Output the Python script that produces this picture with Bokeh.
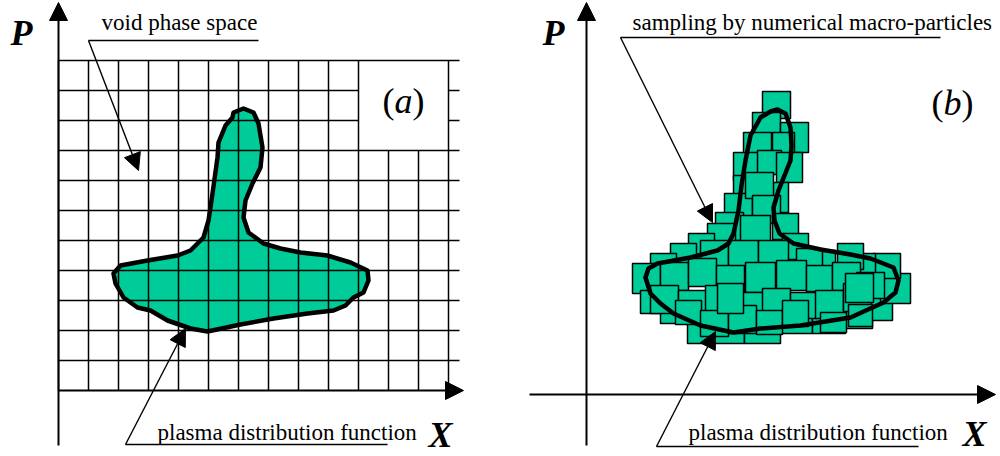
from bokeh.plotting import figure
from bokeh.models import Range1d, Arrow, NormalHead, ColumnDataSource
from bokeh.core.properties import value
from bokeh.embed import file_html
from bokeh.resources import INLINE

GREEN = "#00CC99"
SERIF = value("Liberation Serif")

# ---------------- data (page pixel coordinates) ----------------
# left panel grid
grid_cols = [58, 88, 118, 148, 178, 208, 238, 268, 298, 328, 358, 388, 418, 448]
grid_rows = [60, 90, 120, 150, 180, 210, 240, 270, 300, 330, 360]
grid_top, grid_bottom, grid_left, grid_right = 60, 390, 58, 459
label_box = [358, 448, 60, 150]   # left, right, top, bottom (empty cells)

# plasma distribution contour (panel a)
blob_a_x = [233, 243, 253, 258, 262, 260, 252, 245, 243, 248, 263, 280, 300, 327, 350, 367,
            368, 363, 353, 345, 333, 307, 273, 240, 207, 190, 167, 150, 137, 123, 115, 113,
            120, 147, 177, 190, 203, 208, 212, 217, 218, 225, 232]
blob_a_y = [112, 108, 112, 123, 147, 167, 183, 200, 217, 232, 243, 248, 252, 255, 262, 270,
            280, 292, 297, 305, 310, 313, 318, 324, 331, 328, 320, 310, 307, 297, 283, 273,
            265, 260, 255, 250, 237, 220, 193, 157, 142, 125, 117]

# plasma distribution contour (panel b)
blob_b_x = [770, 777, 785, 790, 791, 790, 784, 778, 773, 774, 779, 793, 820, 850, 870, 893,
            898, 895, 883, 850, 800, 760, 733, 700, 673, 660, 650, 645, 648, 657, 690, 717,
            728, 733, 738, 741, 745, 750, 760]
blob_b_y = [111, 109, 113, 127, 145, 160, 175, 190, 207, 220, 233, 243, 249, 254, 258, 267,
            280, 292, 302, 317, 325, 328, 332, 325, 313, 303, 293, 277, 268, 263, 257, 250,
            243, 233, 210, 185, 160, 135, 117]

# macro-particles (left, top, width, height)
sq_left = [762, 752, 780, 743, 733, 772, 757, 776, 733, 762, 724, 745, 752, 715, 707, 740, 772, 782,
           688, 670, 650, 632, 640, 660, 687, 714, 744, 780, 812, 845, 866, 880, 873, 848, 837, 808, 796,
           700, 728, 758, 660, 688, 716, 745, 776, 806, 832, 856, 650, 678, 705, 733, 762, 790, 815, 843,
           675, 700, 728, 756, 782, 820, 848, 717, 845]
sq_top = [91, 112, 122, 132, 152, 132, 150, 152, 175, 182, 193, 172, 195, 212, 223, 215, 213, 233,
          233, 243, 253, 263, 290, 305, 318, 318, 318, 305, 305, 300, 295, 273, 253, 253, 243, 250, 248,
          240, 240, 240, 262, 258, 265, 262, 260, 265, 262, 272, 285, 290, 285, 292, 288, 292, 290, 283,
          300, 310, 305, 310, 300, 312, 304, 283, 273]
sq_w = [28, 28, 28, 28, 28, 22, 24, 26, 26, 26, 28, 28, 28, 28, 28, 30, 26, 26,
        26, 26, 26, 28, 26, 28, 28, 30, 36, 32, 33, 27, 26, 30, 27, 27, 26, 27, 26,
        28, 30, 30, 28, 28, 28, 30, 30, 26, 28, 28, 28, 28, 26, 30, 28, 26, 28, 28,
        26, 28, 28, 26, 26, 26, 24, 26, 28]
sq_h = [27, 26, 30, 26, 28, 30, 24, 30, 26, 30, 28, 26, 28, 28, 28, 30, 26, 26,
        28, 28, 28, 30, 23, 18, 25, 25, 25, 28, 28, 28, 25, 30, 25, 26, 26, 24, 24,
        28, 28, 28, 28, 28, 28, 30, 30, 26, 28, 26, 28, 28, 28, 28, 28, 26, 28, 28,
        24, 26, 28, 24, 26, 20, 22, 30, 29]

# axes (start x, start y, tip x, tip y)
axis_x0 = [58, 58, 586, 529]
axis_y0 = [445, 390, 445, 394]
axis_x1 = [58, 463, 586, 995]
axis_y1 = [2, 390, 2, 394]

# annotations
note_text = ["void phase space", "plasma distribution function",
             "sampling by numerical macro-particles", "plasma distribution function"]
note_x = [101, 157, 632, 688]
note_y = [28, 438, 28, 438]
underline_x0 = [88, 125, 620, 656]
underline_x1 = [258, 387, 940, 918]
underline_y = [40, 444, 37, 446]
pointer_x1 = [138, 185, 712, 715]
pointer_y1 = [170, 328, 222, 331]

axis_label_text = ["P", "X", "P", "X"]
axis_label_x = [10, 428, 542, 962]
axis_label_y = [45, 447, 45, 446]

panel_tag = ["a", "b"]
panel_tag_x = [403, 952]
panel_tag_y = [113, 115]

# ---------------- figure ----------------
p = figure(width=1000, height=456, x_range=Range1d(0, 1000), y_range=Range1d(456, 0),
           output_backend="svg", toolbar_location=None, min_border=0)
p.axis.visible = False
p.grid.visible = False
p.outline_line_color = None
p.background_fill_color = "white"
p.border_fill_color = "white"

# panel a: blob fill beneath grid
p.patch(blob_a_x, blob_a_y, fill_color=GREEN, line_color=None)

# grid segments
gx0, gy0, gx1, gy1 = [], [], [], []
bl, br, bt, bb = label_box
for c in grid_cols:
    top = bb if bl < c < br else grid_top
    gx0.append(c); gy0.append(top); gx1.append(c); gy1.append(grid_bottom)
for r in grid_rows:
    if bt < r < bb:
        gx0 += [grid_left, br]; gy0 += [r, r]; gx1 += [bl, grid_right]; gy1 += [r, r]
    else:
        gx0.append(grid_left); gy0.append(r); gx1.append(grid_right); gy1.append(r)
p.segment(gx0, gy0, gx1, gy1, line_color="black", line_width=1.5)

p.patch(blob_a_x, blob_a_y, fill_color=None, line_color="black", line_width=4.5,
        line_join="round")

# panel b: macro-particles
src = ColumnDataSource(dict(
    left=sq_left, top=sq_top,
    right=[l + w for l, w in zip(sq_left, sq_w)],
    bottom=[t + h for t, h in zip(sq_top, sq_h)]))
p.quad(left="left", right="right", top="top", bottom="bottom", source=src,
       fill_color=GREEN, line_color="black", line_width=1.5)
p.patch(blob_b_x, blob_b_y, fill_color=None, line_color="black", line_width=4.5,
        line_join="round")

# axes with arrow heads
for x0, y0, x1, y1 in zip(axis_x0, axis_y0, axis_x1, axis_y1):
    p.add_layout(Arrow(end=NormalHead(size=18, fill_color="black", line_color="black"),
                       x_start=x0, y_start=y0, x_end=x1, y_end=y1,
                       line_color="black", line_width=2))

# annotation underlines and pointers
p.segment(underline_x0, underline_y, underline_x1, underline_y, line_color="black", line_width=1.4)
for x0, y0, x1, y1 in zip(underline_x0, underline_y, pointer_x1, pointer_y1):
    p.add_layout(Arrow(end=NormalHead(size=17, fill_color="black", line_color="black"),
                       x_start=x0, y_start=y0, x_end=x1, y_end=y1,
                       line_color="black", line_width=1.4))

p.text(note_x, note_y, text=note_text, text_font=SERIF, text_font_size=value("23px"),
       text_baseline="alphabetic", text_align="left", text_color="black", y_offset=-6)

p.text(axis_label_x, axis_label_y, text=axis_label_text, text_font=SERIF,
       text_font_size=value("36px"), text_font_style="bold italic",
       text_baseline="alphabetic", text_align="left", text_color="black", y_offset=-13)

p.text(panel_tag_x, panel_tag_y, text=panel_tag, text_font=SERIF,
       text_font_size=value("36px"), text_font_style="italic",
       text_baseline="alphabetic", text_align="center", text_color="black", y_offset=-13)
p.text([x - 9 for x in panel_tag_x], panel_tag_y, text=["(", "("], text_font=SERIF,
       text_font_size=value("36px"), text_baseline="alphabetic", text_align="right",
       text_color="black", y_offset=-13)
p.text([x + 9 for x in panel_tag_x], panel_tag_y, text=[")", ")"], text_font=SERIF,
       text_font_size=value("36px"), text_baseline="alphabetic", text_align="left",
       text_color="black", y_offset=-13)

open("out.html", "w").write(file_html(p, INLINE))
